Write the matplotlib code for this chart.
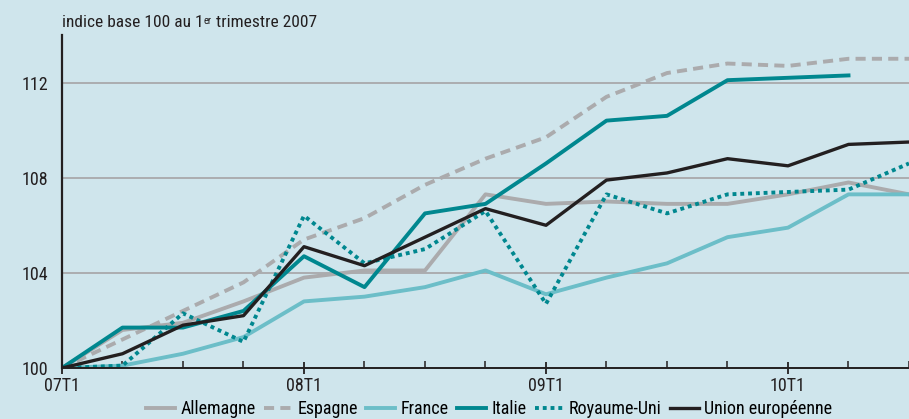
import numpy as np
import matplotlib
matplotlib.use("Agg")
import matplotlib.pyplot as plt

plt.rcParams['font.family'] = ['Roboto Condensed', 'Archivo Narrow', 'DejaVu Sans']

# quarters 07T1 .. 10T3
quarters = ['07T1', '07T2', '07T3', '07T4', '08T1', '08T2', '08T3', '08T4',
            '09T1', '09T2', '09T3', '09T4', '10T1', '10T2', '10T3']
tick_labels = ['07T1', '08T1', '09T1', '10T1']

allemagne = [100, 101.6, 101.9, 102.8, 103.8, 104.1, 104.1, 107.3, 106.9,
             107.0, 106.9, 106.9, 107.3, 107.8, 107.3]
espagne = [100, 101.2, 102.4, 103.6, 105.4, 106.3, 107.7, 108.8, 109.7,
           111.4, 112.4, 112.8, 112.7, 113.0, 113.0]
france = [100, 100.1, 100.6, 101.3, 102.8, 103.0, 103.4, 104.1, 103.1,
          103.8, 104.4, 105.5, 105.9, 107.3, 107.3]
italie = [100, 101.7, 101.7, 102.4, 104.7, 103.4, 106.5, 106.9, 108.6,
          110.4, 110.6, 112.1, 112.2, 112.3, np.nan]
royaume_uni = [100, 100.1, 102.3, 101.1, 106.4, 104.4, 105.0, 106.6, 102.7,
               107.3, 106.5, 107.3, 107.4, 107.5, 108.6]
union_eu = [100, 100.6, 101.8, 102.2, 105.1, 104.3, 105.5, 106.7, 106.0,
            107.9, 108.2, 108.8, 108.5, 109.4, 109.5]

bg = '#cfe5ec'
grey = '#ababad'
teal = '#00878f'
light_teal = '#6cbec8'
black = '#231f20'

fig = plt.figure(figsize=(9.09, 4.19), dpi=100, facecolor=bg)
ax = fig.add_axes([0.0682, 0.1217, 0.9318, 0.7948], facecolor=bg)

x = np.arange(len(quarters))
lw = 2.8
ax.plot(x, allemagne, color=grey, lw=lw, label='Allemagne')
ax.plot(x, espagne, color=grey, lw=lw, ls=(0, (2.6, 1.6)), label='Espagne')
ax.plot(x, france, color=light_teal, lw=lw, label='France')
ax.plot(x, italie, color=teal, lw=lw, label='Italie')
ax.plot(x, royaume_uni, color=teal, lw=lw, ls=(0, (1, 1)), label='Royaume-Uni')
ax.plot(x, union_eu, color=black, lw=2.4, label='Union européenne')

ax.set_xlim(0, 13.95)
ax.set_ylim(100, 114)

for v in [104, 108, 112]:
    ax.axhline(v, color='#a9a9ab', lw=1.3, zorder=0)

ax.set_yticks([100, 104, 108, 112])
ax.tick_params(axis='y', length=0, labelsize=13, pad=10, colors=black)
ax.set_xticks([0, 4, 8, 12])
ax.set_xticklabels(tick_labels)
ax.set_xticks(x, minor=True)
ax.tick_params(axis='x', which='major', direction='inout', length=9, width=1.3,
               labelsize=13, pad=2, colors=black)
ax.tick_params(axis='x', which='minor', direction='in', length=5, width=1.1,
               colors=black)

for s in ['top', 'right']:
    ax.spines[s].set_visible(False)
ax.spines['left'].set_linewidth(1.6)
ax.spines['bottom'].set_linewidth(1.4)
ax.spines['left'].set_color(black)
ax.spines['bottom'].set_color(black)

t1 = fig.text(0.0682, 0.935, 'indice base 100 au 1', fontsize=12.5,
              color=black, va='baseline', ha='left')
t2 = ax.annotate('er', xy=(1, 0.95), xycoords=t1, fontsize=7.5,
                 color=black, va='top', ha='left', annotation_clip=False)
ax.annotate(' trimestre 2007', xy=(1, 0), xycoords=(t2, t1), fontsize=12.5,
            color=black, va='bottom', ha='left', annotation_clip=False)

fig.legend(loc='center', bbox_to_anchor=(0.538, 0.024), ncol=6, frameon=False,
           fontsize=13, handlelength=1.6, columnspacing=0.45, handletextpad=0.3,
           borderaxespad=0)

fig.savefig('out.png', dpi=100, facecolor=bg)
